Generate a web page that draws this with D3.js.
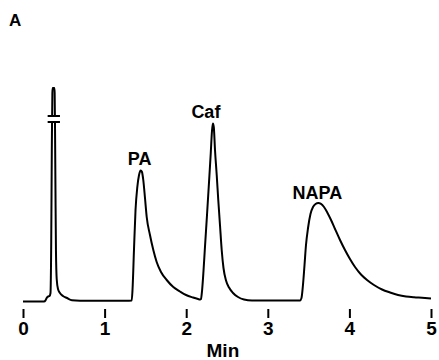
<!DOCTYPE html>
<html>
<head>
<meta charset="utf-8">
<script src="https://cdn.jsdelivr.net/npm/d3@7"></script>
<style>
  html, body { margin: 0; padding: 0; background: #fff; }
  svg { display: block; }
  text { font-family: "Liberation Sans", Arial, Helvetica, sans-serif; font-weight: bold; fill: #000; }
</style>
</head>
<body>
<svg id="chart" width="439" height="360"></svg>
<script>
// ---- data ----
// retention time (min); null signal = pen break on the off-scale solvent peak
const times = [
  0.000, 0.257, 0.276, 0.290, 0.306, 0.325, 0.337, 0.346, 0.353, 0.356,
  0.3565,
  0.357, 0.360, 0.364, 0.384, 0.388, 0.391,
  0.3915,
  0.392, 0.398, 0.404, 0.413, 0.429, 0.453, 0.490, 0.539, 0.600, 0.699,
  1.000, 1.300,
  1.332, 1.342, 1.360, 1.379, 1.401, 1.422, 1.442, 1.458, 1.474, 1.495,
  1.516, 1.556, 1.597, 1.638, 1.691, 1.761, 1.842, 1.924, 1.998, 2.083, 2.145,
  2.170, 2.181, 2.194, 2.212, 2.230, 2.255, 2.279, 2.301, 2.316, 2.327,
  2.338, 2.353, 2.374, 2.393, 2.414, 2.435, 2.457, 2.488, 2.525, 2.574,
  2.635, 2.708, 2.806, 3.100, 3.370,
  3.395, 3.413, 3.431, 3.450, 3.468, 3.493, 3.523, 3.554, 3.585, 3.619,
  3.652, 3.689, 3.732, 3.775, 3.824, 3.885, 3.946, 4.007, 4.069, 4.142,
  4.216, 4.301, 4.400, 4.498, 4.596, 4.694, 4.792, 4.890, 5.000
];
const signal = [
  -0.3, -0.3, 0.3, 1.5, 2.2, 2.5, 4, 30, 75, 89.5,
  null,
  92.5, 104, 106.5, 106.5, 104, 92.5,
  null,
  89.5, 55, 25, 11, 6, 4, 2.5, 1.5, 0.4, 0.15,
  0.1, 0.15,
  0.2, 5.5, 25.5, 45.5, 57, 63, 65.3, 64.5, 60.5, 51.5,
  42, 33, 25.5, 19.5, 14.5, 10.5, 7, 4.75, 3, 1.75, 1,
  0.75, 1, 5, 15, 27, 43, 59, 74, 85, 88.75,
  87, 75.5, 63, 50.5, 38, 25.5, 16.5, 10.25, 6.75, 4,
  2, 0.75, 0.25, 0.2, 0.25,
  0.3, 1.5, 8, 18, 28, 36.5, 43.5, 47, 48.5, 49,
  48.6, 47, 44, 40.5, 36, 30.5, 25.5, 21, 17, 13.25,
  10.5, 8, 5.75, 4.25, 3, 2.25, 1.85, 1.6, 1.25
];
// break marks on the off-scale solvent peak
const breakTime = [0.302, 0.453];
const breakLevels = [89.5, 92.5];

const peakNames = ["PA", "Caf", "NAPA"];
const peakTimes = [1.442, 2.327, 3.619];
const peakHeights = [65.3, 88.75, 49];

const tickValues = [0, 1, 2, 3, 4, 5];
const xTitle = "Min";
const panelLabel = "A";

// ---- drawing ----
const svg = d3.select("#chart");
const x = d3.scaleLinear().domain([0, 5]).range([23, 431]);
const y = d3.scaleLinear().domain([0, 100]).range([301, 101]);

const pts = times.map((t, i) => ({ t, s: signal[i] }));
const line = d3.line()
  .defined(d => d.s !== null)
  .x(d => x(d.t))
  .y(d => y(d.s))
  .curve(d3.curveMonotoneX);

svg.append("path")
  .datum(pts)
  .attr("d", line)
  .attr("fill", "none")
  .attr("stroke", "#000")
  .attr("stroke-width", 2)
  .attr("stroke-linejoin", "round");

// break bars
svg.selectAll("line.brk")
  .data(breakLevels)
  .join("line")
  .attr("class", "brk")
  .attr("x1", x(breakTime[0]))
  .attr("x2", x(breakTime[1]))
  .attr("y1", d => y(d))
  .attr("y2", d => y(d))
  .attr("stroke", "#000")
  .attr("stroke-width", 2);

// peak labels
const labelDx = [-1, -7, -1];
const labelDy = [-5.5, -5.5, -4.5];
svg.selectAll("text.peak")
  .data(peakNames)
  .join("text")
  .attr("class", "peak")
  .attr("x", (d, i) => x(peakTimes[i]) + labelDx[i])
  .attr("y", (d, i) => y(peakHeights[i]) + labelDy[i])
  .attr("text-anchor", "middle")
  .style("font-size", "18px")
  .text(d => d);

// x axis (ticks only, detached below baseline)
const axis = d3.axisBottom(x)
  .tickValues(tickValues)
  .tickFormat(d3.format("d"))
  .tickSize(9)
  .tickPadding(4);
const gx = svg.append("g")
  .attr("transform", "translate(0,309)")
  .call(axis);
gx.select(".domain").remove();
gx.selectAll(".tick line").attr("stroke", "#000").attr("stroke-width", 2);
gx.selectAll(".tick text")
  .style("font-size", "19px")
  .style("font-family", "'Liberation Sans', Arial, sans-serif")
  .style("font-weight", "bold")
  .attr("fill", "#000");

svg.append("text")
  .attr("x", x(2.45))
  .attr("y", 357)
  .attr("text-anchor", "middle")
  .style("font-size", "19px")
  .text(xTitle);

svg.append("text")
  .attr("x", 9)
  .attr("y", 26)
  .style("font-size", "17px")
  .text(panelLabel);
</script>
</body>
</html>
